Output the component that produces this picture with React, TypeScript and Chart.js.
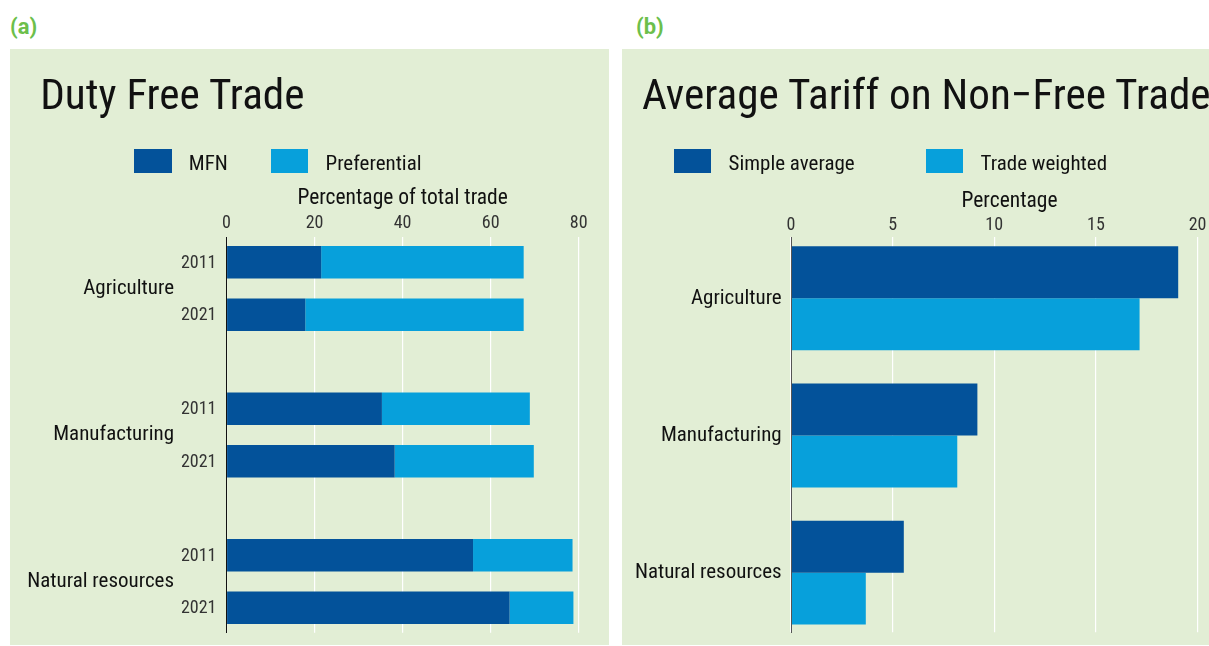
import React, { useEffect, useRef } from "react";
import { Chart, registerables } from "chart.js";

Chart.register(...registerables);

// ---------- data ----------
const dutyCategories = ["Agriculture", "Manufacturing", "Natural resources"];
const dutyYears = ["2011", "2021"];
const dutySeries = ["MFN", "Preferential"];
const mfn2011 = [21.5, 35.3, 56.0];
const pref2011 = [46.0, 33.6, 22.6];
const mfn2021 = [17.9, 38.2, 64.3];
const pref2021 = [49.6, 31.6, 14.5];
const dutyTicks = [0, 20, 40, 60, 80];

const tariffCategories = ["Agriculture", "Manufacturing", "Natural resources"];
const tariffSeries = ["Simple average", "Trade weighted"];
const simpleAverage = [19.05, 9.17, 5.55];
const tradeWeighted = [17.15, 8.18, 3.68];
const tariffTicks = [0, 5, 10, 15, 20];

const titleA = "Duty Free Trade";
const titleB = "Average Tariff on Non\u2212Free Trade";
const axisTitleA = "Percentage of total trade";
const axisTitleB = "Percentage";

// ---------- style ----------
const DARK = "#03529A";
const LIGHT = "#07A0DB";
const BG = "#E2EED5";
const GREEN = "#6CBF4B";
const FONT = '"Roboto Condensed", Roboto, sans-serif';

const pts = (vals: number[]) => vals.map((v, i) => ({ x: v, y: i }));

const yearLabels = {
  id: "yearLabels",
  afterDatasetsDraw(chart: any) {
    const ctx = chart.ctx;
    ctx.save();
    ctx.font = `18px ${FONT}`;
    ctx.fillStyle = "#333";
    ctx.textAlign = "right";
    ctx.textBaseline = "middle";
    dutyYears.forEach((yr, k) => {
      const meta = chart.getDatasetMeta(k * 2);
      meta.data.forEach((el: any) => {
        ctx.fillText(yr, chart.chartArea.left - 10, el.y + 1);
      });
    });
    ctx.restore();
  },
};

function makeOptions(p: {
  cats: string[];
  ticks: number[];
  xMax: number;
  yMin: number;
  yMax: number;
  axisTitle: string;
  yWidth: number;
  labelPad: number;
  padRight: number;
  padBottom: number;
  padTop: number;
  tickPad: number;
  titlePadBottom: number;
  borderColor: string;
  catPct: number;
  barPct: number;
  stacked: boolean;
}) {
  return {
    indexAxis: "y" as const,
    responsive: false,
    animation: false as const,
    events: [],
    layout: { padding: { left: 0, right: p.padRight, top: p.padTop, bottom: p.padBottom } },
    datasets: { bar: { categoryPercentage: p.catPct, barPercentage: p.barPct, borderWidth: 0 } },
    plugins: { legend: { display: false }, tooltip: { enabled: false }, title: { display: false } },
    scales: {
      x: {
        type: "linear" as const,
        position: "top" as const,
        stacked: p.stacked,
        min: 0,
        max: p.xMax,
        afterBuildTicks: (s: any) => {
          s.ticks = p.ticks.map((v) => ({ value: v }));
        },
        ticks: { font: { family: FONT, size: 18 }, color: "#333", padding: p.tickPad },
        grid: { color: "#FFFFFF", lineWidth: 1.2, drawTicks: false },
        border: { display: false },
        title: {
          display: true,
          text: p.axisTitle,
          font: { family: FONT, size: 21.5 },
          color: "#111",
          padding: { top: 0, bottom: p.titlePadBottom },
        },
      },
      y: {
        type: "linear" as const,
        reverse: true,
        offset: false,
        bounds: "data" as const,
        min: p.yMin,
        max: p.yMax,
        afterBuildTicks: (s: any) => {
          s.ticks = p.cats.map((_, i) => ({ value: i }));
        },
        afterFit: (s: any) => {
          s.width = p.yWidth;
          s.paddingTop = 0;
          s.paddingBottom = 0;
        },
        ticks: {
          font: { family: FONT, size: 21 },
          color: "#111",
          padding: p.labelPad,
          callback: (v: any) => p.cats[v as number] ?? "",
        },
        grid: { display: false, drawTicks: false, offset: false },
        border: { display: true, color: p.borderColor, width: 1, z: 1 },
      },
    },
  };
}

function DutyChart() {
  const ref = useRef<HTMLCanvasElement>(null);
  useEffect(() => {
    const chart = new Chart(ref.current!, {
      type: "bar",
      data: {
        datasets: [
          { label: dutySeries[0], data: pts(mfn2011), stack: dutyYears[0], backgroundColor: DARK },
          { label: dutySeries[1], data: pts(pref2011), stack: dutyYears[0], backgroundColor: LIGHT },
          { label: dutySeries[0], data: pts(mfn2021), stack: dutyYears[1], backgroundColor: DARK },
          { label: dutySeries[1], data: pts(pref2021), stack: dutyYears[1], backgroundColor: LIGHT },
        ],
      },
      options: makeOptions({
        cats: dutyCategories,
        ticks: dutyTicks,
        xMax: 80,
        yMin: -0.35,
        yMax: 2.35,
        axisTitle: axisTitleA,
        yWidth: 216.5,
        labelPad: 52.5,
        padRight: 30.3,
        padBottom: 12.3,
        padTop: 137.1,
        tickPad: 3,
        titlePadBottom: -2.2,
        borderColor: "#111",
        catPct: 0.7167,
        barPct: 0.619,
        stacked: true,
      }) as any,
      plugins: [yearLabels],
    });
    return () => chart.destroy();
  }, []);
  return <canvas ref={ref} width={599} height={596} style={{ position: "absolute", left: 0, top: 0 }} />;
}

function TariffChart() {
  const ref = useRef<HTMLCanvasElement>(null);
  useEffect(() => {
    const chart = new Chart(ref.current!, {
      type: "bar",
      data: {
        datasets: [
          { label: tariffSeries[0], data: pts(simpleAverage), backgroundColor: DARK },
          { label: tariffSeries[1], data: pts(tradeWeighted), backgroundColor: LIGHT },
        ],
      },
      options: makeOptions({
        cats: tariffCategories,
        ticks: tariffTicks,
        xMax: 21.5,
        yMin: -0.445,
        yMax: 2.435,
        axisTitle: axisTitleB,
        yWidth: 169,
        labelPad: 9.3,
        padRight: 14,
        padBottom: 12.7,
        padTop: 139.4,
        tickPad: 1,
        titlePadBottom: -0.5,
        borderColor: "#555",
        catPct: 0.758,
        barPct: 1.0,
        stacked: false,
      }) as any,
    });
    return () => chart.destroy();
  }, []);
  return <canvas ref={ref} width={620} height={596} style={{ position: "absolute", left: 0, top: 0 }} />;
}

function Legend({ items, lefts }: { items: { label: string; color: string }[]; lefts: number[] }) {
  return (
    <>
      {items.map((it, i) => (
        <React.Fragment key={i}>
          <div
            style={{
              position: "absolute",
              left: lefts[i],
              top: 100.3,
              width: 37.4,
              height: 24,
              background: it.color,
            }}
          />
          <div
            style={{
              position: "absolute",
              left: lefts[i] + 54.5,
              top: 101.5,
              height: 24,
              lineHeight: "24px",
              fontSize: 21,
              fontFamily: FONT,
              color: "#111",
              whiteSpace: "nowrap",
            }}
          >
            {it.label}
          </div>
        </React.Fragment>
      ))}
    </>
  );
}

const titleStyle: React.CSSProperties = {
  position: "absolute",
  top: 23.8,
  fontSize: 43.2,
  lineHeight: "43.2px",
  fontFamily: FONT,
  color: "#111",
  whiteSpace: "nowrap",
};

const panelLabel: React.CSSProperties = {
  position: "absolute",
  top: 15.5,
  fontSize: 22,
  lineHeight: "22px",
  fontFamily: "Roboto, sans-serif",
  fontWeight: 700,
  color: GREEN,
};

export default function App() {
  return (
    <div
      style={{
        position: "absolute",
        left: 0,
        top: 0,
        width: 1209,
        height: 646,
        overflow: "hidden",
        background: "#FFFFFF",
      }}
    >
      <div style={{ ...panelLabel, left: 10 }}>(a)</div>
      <div style={{ ...panelLabel, left: 636 }}>(b)</div>

      <div style={{ position: "absolute", left: 10, top: 49, width: 599, height: 596, background: BG, overflow: "hidden" }}>
        <DutyChart />
        <div style={{ ...titleStyle, left: 30.2 }}>{titleA}</div>
        <Legend
          items={[
            { label: dutySeries[0], color: DARK },
            { label: dutySeries[1], color: LIGHT },
          ]}
          lefts={[124.3, 261]}
        />
      </div>

      <div style={{ position: "absolute", left: 622, top: 49, width: 620, height: 596, background: BG, overflow: "hidden" }}>
        <TariffChart />
        <div style={{ ...titleStyle, left: 20 }}>{titleB}</div>
        <Legend
          items={[
            { label: tariffSeries[0], color: DARK },
            { label: tariffSeries[1], color: LIGHT },
          ]}
          lefts={[52, 304]}
        />
      </div>
    </div>
  );
}
